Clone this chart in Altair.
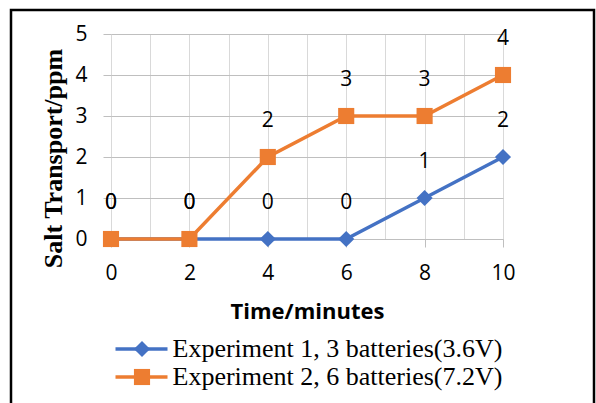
import altair as alt
import pandas as pd

times = [0, 2, 4, 6, 8, 10]
exp1 = [0, 0, 0, 0, 1, 2]
exp2 = [0, 0, 2, 3, 3, 4]
series_names = ["Experiment 1, 3 batteries(3.6V)", "Experiment 2, 6 batteries(7.2V)"]
colors = ["#4472C4", "#ED7D31"]
marker_shapes = ["diamond", "square"]
x_ticks = list(range(0, 11))
y_ticks = [0, 1, 2, 3, 4, 5]

rows = []
for t, v in zip(times, exp1):
    rows.append({"time": t, "value": v, "series": series_names[0], "marker": series_names[0]})
for t, v in zip(times, exp2):
    rows.append({"time": t, "value": v, "series": series_names[1], "marker": series_names[1]})
df = pd.DataFrame(rows)

x_enc = alt.X(
    "time:Q",
    scale=alt.Scale(domain=[0, 10], nice=False),
    axis=alt.Axis(
        values=x_ticks,
        labelExpr="datum.value % 2 == 0 ? datum.label : ''",
        tickColor=alt.condition("datum.value % 2 == 0", alt.value("#bfbfbf"), alt.value("transparent")),
        grid=True,
        gridColor="#d9d9d9",
        domainColor="#bfbfbf",
        tickSize=8,
        labelPadding=15,
        labelFont="Open Sans",
        labelFontSize=21,
        labelColor="black",
        labelOverlap=False,
        labelFlush=False,
        title="Time/minutes",
        titleFont="Open Sans",
        titleFontWeight="bold",
        titleFontSize=22,
        titleColor="black",
        titleY=79,
        titleBaseline="alphabetic",
    ),
)
y_enc = alt.Y(
    "value:Q",
    scale=alt.Scale(domain=[0, 5], nice=False),
    axis=alt.Axis(
        values=y_ticks,
        grid=True,
        gridColor="#bfbfbf",
        domain=False,
        tickColor="#bfbfbf",
        tickSize=8,
        labelPadding=16,
        labelFont="Open Sans",
        labelFontSize=21,
        labelColor="black",
        title="Salt Transport/ppm",
        titleFont="Liberation Serif",
        titleFontWeight="bold",
        titleFontSize=26,
        titleColor="black",
        titleAngle=270,
        titleX=-50,
        titleY=124,
        titleBaseline="alphabetic",
    ),
)

base = alt.Chart(df)

line_leg = alt.Legend(
    title=None,
    orient="none",
    legendX=0,
    legendY=302,
    direction="vertical",
    symbolType="M-4,0H4",
    symbolSize=169,
    symbolStrokeWidth=3.5,
    symbolOffset=17.5,
    labelOffset=18,
    labelFont="Liberation Serif",
    labelFontSize=26,
    labelColor="black",
    labelLimit=500,
)
marker_leg = alt.Legend(
    title=None,
    orient="none",
    legendX=0,
    legendY=302,
    direction="vertical",
    symbolSize=260,
    symbolStrokeWidth=0,
    symbolOffset=18,
    labelOffset=18,
    labelFont="Liberation Serif",
    labelFontSize=26,
    labelOpacity=0,
    labelLimit=500,
)

lines = base.mark_line(strokeWidth=3.5).encode(
    x=x_enc, y=y_enc,
    stroke=alt.Stroke("series:N", scale=alt.Scale(domain=series_names, range=colors), legend=line_leg),
)
points = base.mark_point(filled=True, opacity=1, size=260).encode(
    x=x_enc, y=y_enc,
    color=alt.Color("marker:N", scale=alt.Scale(range=colors), legend=marker_leg),
    shape=alt.Shape("marker:N", scale=alt.Scale(range=marker_shapes), legend=marker_leg),
)

labels = base.mark_text(font="Open Sans", fontSize=21, color="black", dy=-36, baseline="middle").encode(
    x=x_enc, y=y_enc, text=alt.Text("value:Q")
)

border = alt.Chart(alt.Data(values=[{}])).mark_rect(
    filled=False, stroke="black", strokeWidth=2.5
).encode(
    x=alt.value(-100), x2=alt.value(483), y=alt.value(-24), y2=alt.value(420)
)

chart = alt.layer(border, lines, points, labels).properties(
    width=392,
    height=205,
    padding={"left": 111, "top": 34, "right": 93, "bottom": 164},
    autosize=alt.AutoSizeParams(type="none"),
    background="white",
).configure_view(stroke=None)

chart.save("out.html", embed_options={"renderer": "svg", "actions": False})
